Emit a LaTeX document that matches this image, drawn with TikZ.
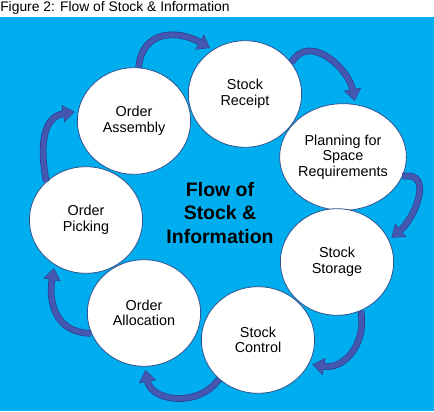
\documentclass[tikz,border=0pt]{standalone}
\usepackage{fontspec}
\setmainfont{Liberation Sans}
\usetikzlibrary{shapes.geometric,arrows.meta}

\definecolor{bgblue}{RGB}{0,174,239}
\definecolor{ringblue}{RGB}{47,82,143}
\definecolor{arrowblue}{RGB}{68,88,178}
\definecolor{arrowedge}{RGB}{45,60,140}

\tikzset{
  stage/.style={ellipse, draw=ringblue, line width=0.6pt, fill=white,
    minimum width=85pt, minimum height=80pt, inner sep=0pt, align=center,
    font=\fontsize{10.8}{11.6}\selectfont},
  flow/.style={arrowblue, line width=4pt, shorten >=3pt,
    -{Triangle[width=11pt,length=8pt]},
    preaction={draw=arrowedge, line width=5pt, shorten >=2.4pt,
      -{Triangle[width=12.5pt,length=9pt]}}}
}

\begin{document}
\begin{tikzpicture}[x=0.75pt,y=0.75pt]
\useasboundingbox (0,0) rectangle (434,411);
\fill[bgblue] (0,0) rectangle (434,394);
\node[anchor=base west, inner sep=0pt, font=\fontsize{10.4}{11}\selectfont] (caption) at (0,399) {Figure 2: Flow of Stock \& Information};

\node[stage] (rec) at (245,317) {Stock\\Receipt};
\node[stage] (plan) at (343,254) {Planning for\\Space\\Requirements};
\node[stage] (stor) at (337,149) {Stock\\Storage};
\node[stage] (ctrl) at (258,71) {Stock\\Control};
\node[stage] (alloc) at (144,98) {Order\\Allocation};
\node[stage] (pick) at (86,191) {Order\\Picking};
\node[stage] (asm) at (134,290) {Order\\Assembly};
\node[align=center, font=\bfseries\fontsize{14.6}{17.6}\selectfont] (title) at (220,198) {Flow of\\Stock \&\\Information};

\draw[flow] (asm.85) to[out=85,in=150,looseness=1.3] (rec.126);
\draw[flow] (rec.34) to[out=60,in=100,looseness=1.2] (plan.77);
\draw[flow] (plan.-18) to[out=10,in=40,looseness=1.3] (stor.23);
\draw[flow] (stor.-64) to[out=-80,in=-10,looseness=1.2] (ctrl.-25);
\draw[flow] (ctrl.-135) to[out=-125,in=-80,looseness=1.2] (alloc.-89);
\draw[flow] (alloc.-159) to[out=180,in=-100,looseness=1.2] (pick.-125);
\draw[flow] (pick.136) to[out=100,in=-170,looseness=1.2] (asm.170);
\end{tikzpicture}
\end{document}
